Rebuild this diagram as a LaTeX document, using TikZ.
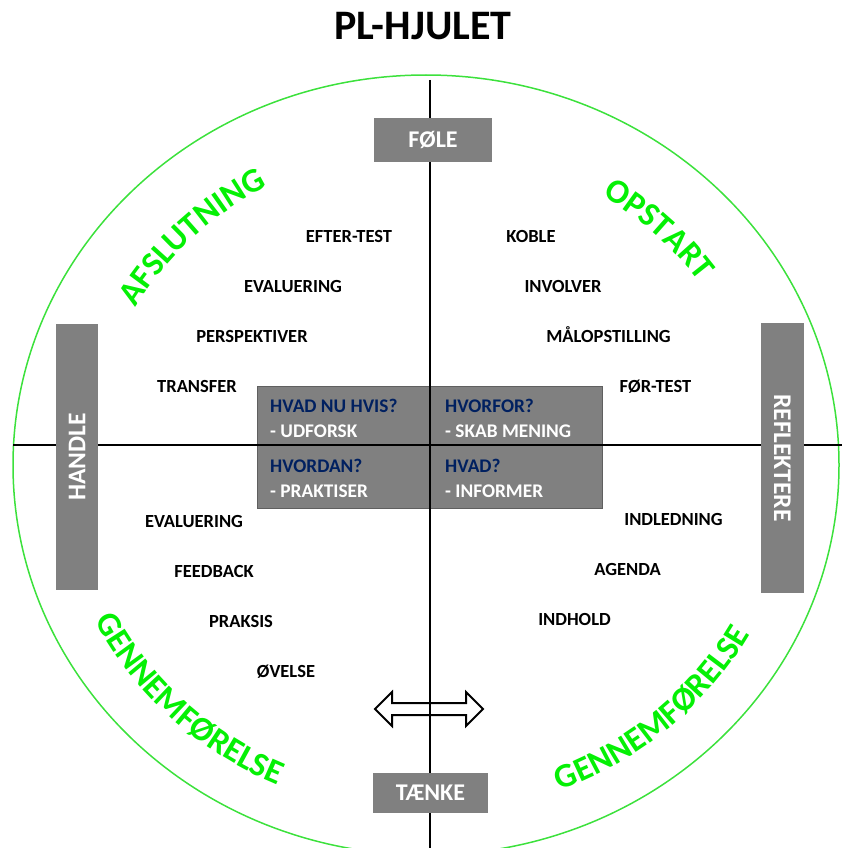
\documentclass[tikz,border=0pt]{standalone}
\usepackage{fontspec}
\setmainfont{Carlito}
\usepackage{xcolor}
\usetikzlibrary{shapes.arrows}
\usetikzlibrary{decorations.text}

\definecolor{boxGray}{RGB}{128,128,128}
\definecolor{coreEdge}{RGB}{95,95,95}
\definecolor{navyText}{RGB}{0,32,96}
\definecolor{ringGreen}{RGB}{60,225,60}
\definecolor{wordGreen}{RGB}{5,240,5}
\newcommand{\arcFont}{\fontsize{34}{34}\selectfont\bfseries\color{wordGreen}}

\begin{document}
\begin{tikzpicture}
[x=1pt, y=1pt,
 lineDecorate/.style={line width=2.2pt, black},
 ringDecorate/.style={line width=1.5pt, ringGreen},
 boxDecorate/.style={shape=rectangle, fill=boxGray, text=white, inner sep=0pt, font=\fontsize{24}{24}\selectfont\bfseries},
 wordDecorate/.style={anchor=base, inner sep=0pt, font=\fontsize{18.5}{20}\selectfont\bfseries},
 coreDecorate/.style={anchor=base west, inner sep=0pt, font=\fontsize{19.3}{20}\selectfont\bfseries},
 arcDecorate/.style={decorate, decoration={text along path, text align=center, text={|\arcFont|#1}}}]

 \useasboundingbox (0,0) rectangle (842,-848);
 \clip (0,0) rectangle (842,-848);

 \node (title) at (423,-40) [anchor=base, inner sep=0pt, font=\fontsize{42}{42}\selectfont\bfseries] {PL-HJULET};

 % ring and its words
 \draw[ringDecorate] (426,-465) ellipse [x radius=413, y radius=390];
 \path[arcDecorate=AFSLUTNING] (426,-465) ++(165:335 and 316) arc[start angle=165, end angle=104, x radius=335, y radius=316];
 \path[arcDecorate=OPSTART] (426,-465) ++(76:335 and 316) arc[start angle=76, end angle=17, x radius=335, y radius=316];
 \path[arcDecorate=GENNEMFØRELSE] (426,-465) ++(190:370 and 349) arc[start angle=190, end angle=262, x radius=370, y radius=349];
 \path[arcDecorate=GENNEMFØRELSE] (426,-465) ++(275.5:370 and 349) arc[start angle=275.5, end angle=347.5, x radius=370, y radius=349];

 % centre box
 \node (core) at (429.5,-447) [draw=coreEdge, fill=boxGray, line width=1pt, minimum width=345pt, minimum height=122pt] {};

 \foreach \nodename/\x/\y/\col/\txt in {
qa/270/412/navyText/HVAD NU HVIS?,
qb/270/437/white/- UDFORSK,
qc/445/412/navyText/HVORFOR?,
qd/445/437/white/- SKAB MENING,
qe/270/472/navyText/HVORDAN?,
qf/270/497/white/- PRAKTISER,
qg/445/472/navyText/HVAD?,
qh/445/497/white/- INFORMER}
 {
          \node (\nodename) at (\x,-\y) [coreDecorate, text=\col] {\txt};
 }

 \node (swap) at (429,-709) [shape=double arrow, draw=black, fill=white, line width=2pt, minimum height=108pt, inner xsep=0pt, inner ysep=5pt, double arrow head extend=11pt] {};

 % axes
 \coordinate (vtop) at (430,-80);
 \coordinate (vbot) at (430,-850);
 \coordinate (hleft) at (13,-445);
 \coordinate (hright) at (842,-445);
 \path (vtop) edge[lineDecorate] (vbot)
       (hleft) edge[lineDecorate] (hright);

 \node (fole) at (433,-140) [boxDecorate, minimum width=118pt, minimum height=44pt] {FØLE};
 \node (taenke) at (430.5,-793) [boxDecorate, minimum width=115pt, minimum height=40pt] {TÆNKE};
 \node (handle) at (77,-457) [boxDecorate, rotate=90, minimum width=266pt, minimum height=42pt, font=\fontsize{25.5}{25.5}\selectfont\bfseries] {HANDLE};
 \node (reflektere) at (782.5,-458) [boxDecorate, rotate=-90, minimum width=270pt, minimum height=43pt, font=\fontsize{25.5}{25.5}\selectfont\bfseries] {REFLEKTERE};

 % words in the quarters
 \foreach \nodename/\x/\y/\txt in {
efter/349/242/EFTER-TEST,
evalA/293/292/EVALUERING,
persp/252/342/PERSPEKTIVER,
trans/197/392/TRANSFER,
koble/531/242/KOBLE,
invol/563/292/INVOLVER,
maal/608.5/342/MÅLOPSTILLING,
foer/655.5/392/FØR-TEST,
evalB/194/527/EVALUERING,
feed/214/577/FEEDBACK,
praks/241/627/PRAKSIS,
oevel/286/677/ØVELSE,
indl/673.5/525/INDLEDNING,
agenda/627.5/575/AGENDA,
indh/574.5/625/INDHOLD}
 {
          \node (\nodename) at (\x,-\y) [wordDecorate] {\txt};
 }

\end{tikzpicture}
\end{document}
